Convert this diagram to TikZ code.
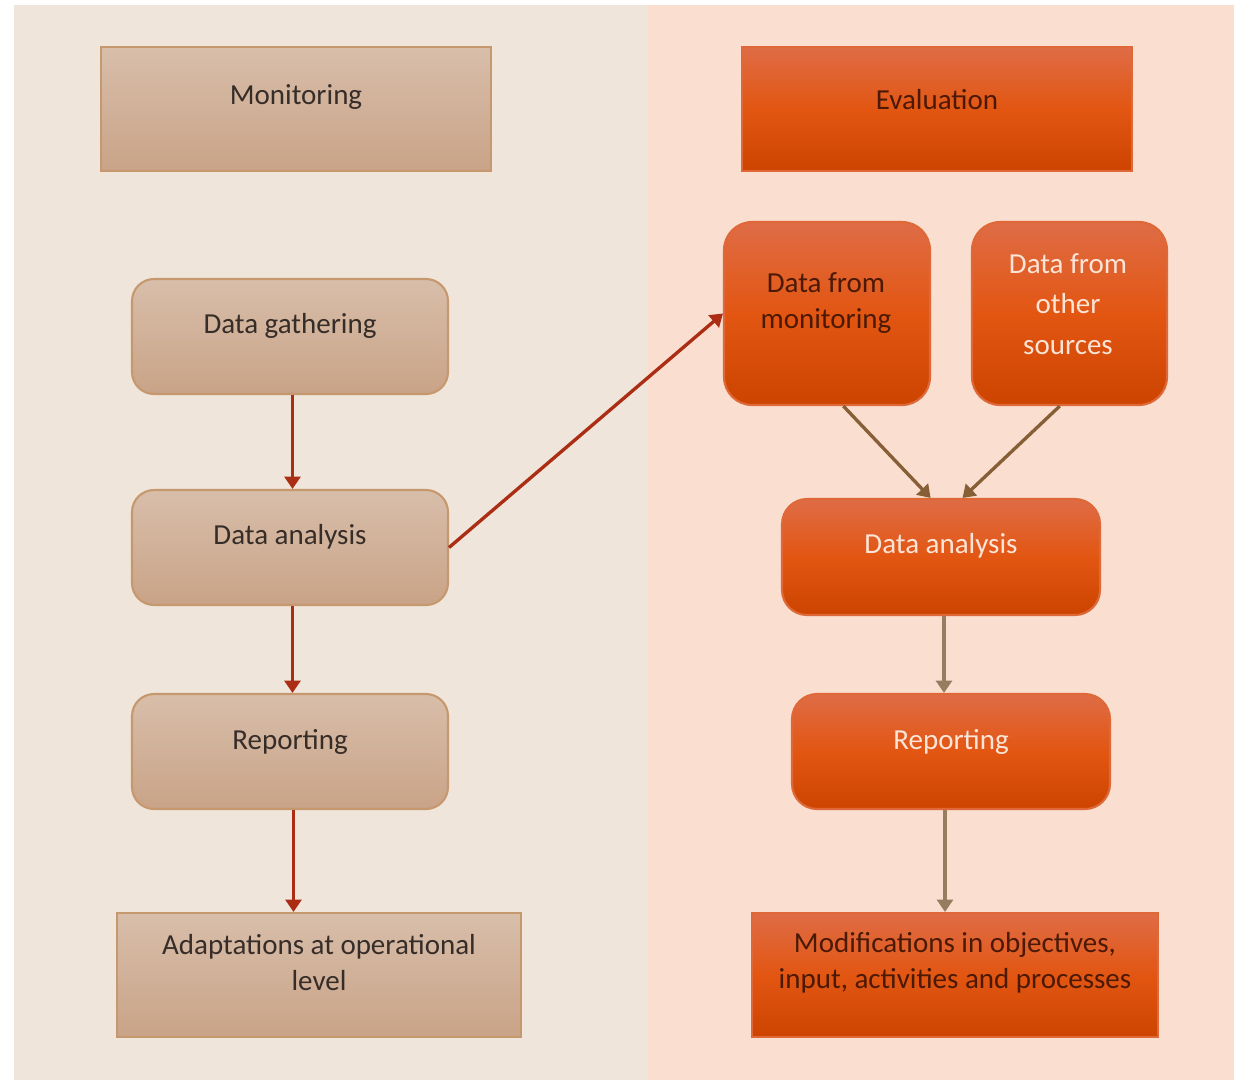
\documentclass[tikz,border=0pt]{standalone}
\usepackage{fontspec}
\setmainfont{Carlito}
\usetikzlibrary{arrows.meta}
\definecolor{MonitorBand}{RGB}{239,229,218}
\definecolor{EvalBand}{RGB}{250,222,208}
\definecolor{TanTop}{RGB}{216,190,170}
\definecolor{TanBottom}{RGB}{201,163,135}
\definecolor{TanEdge}{RGB}{198,152,110}
\definecolor{OrangeTop}{RGB}{223,108,70}
\definecolor{OrangeMid}{RGB}{226,86,18}
\definecolor{OrangeBottom}{RGB}{204,68,0}
\definecolor{OrangeEdge}{RGB}{222,104,55}
\definecolor{ArrowRed}{RGB}{170,45,20}
\definecolor{ArrowBrown}{RGB}{135,95,55}
\definecolor{ArrowTaupe}{RGB}{150,125,95}
\definecolor{DarkInk}{RGB}{55,45,40}
\definecolor{BurntInk}{RGB}{75,25,5}
\definecolor{PaleInk}{RGB}{252,228,215}

\begin{document}
\begin{tikzpicture}[x=0.02cm, y=-0.02cm,
    every node/.style={font=\fontsize{16.5}{20.5}\selectfont, align=center},
    tanbox/.style={draw=TanEdge, line width=1.2pt, top color=TanTop,
      bottom color=TanBottom, inner sep=0pt},
    tanround/.style={tanbox, rounded corners=0.44cm},
    orangebox/.style={draw=OrangeEdge, line width=1.2pt, top color=OrangeTop,
      bottom color=OrangeBottom, middle color=OrangeMid, inner sep=0pt},
    orangeround/.style={orangebox, rounded corners=0.56cm},
    darklabel/.style={text=DarkInk},
    burntlabel/.style={text=BurntInk},
    palelabel/.style={text=PaleInk},
    redflow/.style={draw=ArrowRed, line width=1.9pt,
      -{Triangle[width=9pt,length=7pt]}},
    brownflow/.style={redflow, draw=ArrowBrown},
    taupeflow/.style={redflow, draw=ArrowTaupe}]
  \useasboundingbox (0,0) rectangle (1234,1080);
  \fill[MonitorBand] (14,5) rectangle (648,1080);
  \fill[EvalBand] (648,5) rectangle (1234,1080);

  % monitoring side
  \node[tanbox, minimum width=7.8cm, minimum height=2.48cm] (monitoring) at (296,109) {};
  \node[darklabel] (monitoring-t) at (296,97) {Monitoring};
  \node[tanround, minimum width=6.32cm, minimum height=2.3cm] (gathering) at (290,336.5) {};
  \node[darklabel] (gathering-t) at (290,326) {Data gathering};
  \node[tanround, minimum width=6.32cm, minimum height=2.3cm] (analysisL) at (290,547.5) {};
  \node[darklabel] (analysisL-t) at (290,537) {Data analysis};
  \node[tanround, minimum width=6.32cm, minimum height=2.3cm] (reportingL) at (290,751.5) {};
  \node[darklabel] (reportingL-t) at (290,742) {Reporting};
  \node[tanbox, minimum width=8.08cm, minimum height=2.48cm] (adaptations) at (319,975) {};
  \node[darklabel] (adaptations-t) at (319,963) {Adaptations at operational\\level};

  % evaluation side
  \node[orangebox, minimum width=7.8cm, minimum height=2.48cm] (evaluation) at (937,109) {};
  \node[burntlabel] (evaluation-t) at (937,100) {Evaluation};
  \node[orangeround, minimum width=4.12cm, minimum height=3.66cm] (frommon) at (827,313.5) {};
  \node[burntlabel] (frommon-t) at (826,303) {Data from\\monitoring};
  \node[orangeround, minimum width=3.9cm, minimum height=3.66cm] (fromother) at (1069.5,313.5) {};
  \node[palelabel, font=\fontsize{16.5}{23}\selectfont] (fromother-t) at (1068,304) {Data from\\other\\sources};
  \node[orangeround, rounded corners=0.5cm, minimum width=6.36cm, minimum height=2.32cm] (analysisR) at (941,557) {};
  \node[palelabel] (analysisR-t) at (941,546) {Data analysis};
  \node[orangeround, rounded corners=0.5cm, minimum width=6.36cm, minimum height=2.3cm] (reportingR) at (951,751.5) {};
  \node[palelabel] (reportingR-t) at (951,742) {Reporting};
  \node[orangebox, minimum width=8.12cm, minimum height=2.48cm] (modifications) at (955,975) {};
  \node[burntlabel] (modifications-t) at (955,963) {Modifications in objectives,\\input, activities and processes};

  % connectors
  \draw[redflow] ([xshift=0.05cm]gathering.south) -- ([xshift=0.05cm]analysisL.north);
  \draw[redflow] ([xshift=0.05cm]analysisL.south) -- ([xshift=0.05cm]reportingL.north);
  \draw[redflow] ([xshift=0.07cm]reportingL.south) -- ([xshift=0.07cm]reportingL.south |- adaptations.north);
  \draw[redflow] (analysisL.east) -- (frommon.west);
  \draw[brownflow] (frommon.-80) -- (analysisR.100);
  \draw[brownflow] (fromother.-96) -- (analysisR.70);
  \draw[taupeflow] ([xshift=0.06cm]analysisR.south) -- ([xshift=0.06cm]analysisR.south |- reportingR.north);
  \draw[taupeflow] ([xshift=-0.12cm]reportingR.south) -- ([xshift=-0.12cm]reportingR.south |- modifications.north);
\end{tikzpicture}
\end{document}
